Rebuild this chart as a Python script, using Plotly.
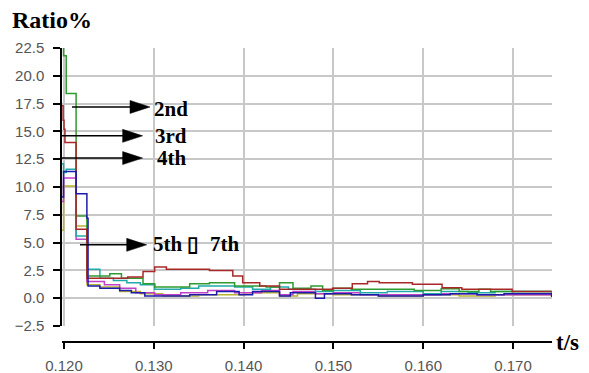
import plotly.graph_objects as go

# Harmonic ratio (%) versus time for harmonic orders 2..7 (step traces)
t_green = [0.11980, 0.11995, 0.12025, 0.12135, 0.12255, 0.1251, 0.1264, 0.1288, 0.1301, 0.1340, 0.1362,
           0.1390, 0.1425, 0.1440, 0.1455, 0.1475, 0.1488, 0.1500, 0.1520, 0.1590, 0.1620, 0.1640,
           0.1662, 0.1675, 0.1743]
v_green = [23.5, 21.8, 18.4, 7.4, 2.0, 2.2, 1.8, 1.3, 1.0, 1.3, 1.4, 1.1, 1.0, 1.4, 0.9, 1.1, 0.7,
           0.9, 0.8, 0.7, 0.85, 0.6, 0.8, 0.6, 0.6]

t_red = [0.11967, 0.11990, 0.12000, 0.12011, 0.12135, 0.12255, 0.1271, 0.1288, 0.1301, 0.1314, 0.1362,
         0.1388, 0.1399, 0.1418, 0.1440, 0.1499, 0.1521, 0.1538, 0.1551, 0.1588, 0.1621, 0.1643,
         0.1699, 0.1743]
v_red = [17.3, 16.0, 15.2, 14.0, 6.2, 1.8, 1.9, 2.4, 2.8, 2.6, 2.5, 2.0, 1.4, 1.1, 0.8, 0.9, 1.3, 1.5,
         1.4, 1.25, 0.95, 0.8, 0.6, 0.6]

t_cyan = [0.11967, 0.11995, 0.12025, 0.12135, 0.12255, 0.1240, 0.1255, 0.1270, 0.1285, 0.1301, 0.1330,
          0.1350, 0.1390, 0.1410, 0.1430, 0.1450, 0.1480, 0.1500, 0.1530, 0.1560, 0.1600, 0.1620,
          0.1650, 0.1680, 0.1743]
v_cyan = [12.1, 11.3, 11.6, 5.6, 2.6, 1.8, 1.6, 1.4, 1.2, 0.8, 0.9, 1.1, 1.0, 0.8, 1.0, 0.8, 0.6, 0.7,
          0.5, 0.6, 0.4, 0.6, 0.5, 0.6, 0.4]

t_blue = [0.11967, 0.11995, 0.12135, 0.12255, 0.12268, 0.1240, 0.1262, 0.1275, 0.1290, 0.1310, 0.1340,
          0.1370, 0.1395, 0.1410, 0.1440, 0.1452, 0.1480, 0.1490, 0.1520, 0.1550, 0.1600, 0.1630,
          0.1660, 0.1690, 0.1743]
v_blue = [9.1, 11.4, 9.4, 7.2, 1.1, 0.9, 0.7, 0.5, 0.2, 0.2, 0.3, 0.6, 0.3, 0.6, 0.2, 0.5, 0.0, 0.4,
          0.3, 0.2, 0.3, 0.4, 0.3, 0.4, 0.1]

t_magenta = [0.11967, 0.11995, 0.12135, 0.12255, 0.1245, 0.1262, 0.1280, 0.1301, 0.1330, 0.1360, 0.1390,
             0.1420, 0.1440, 0.1455, 0.1480, 0.1500, 0.1530, 0.1580, 0.1620, 0.1660, 0.1700, 0.1743]
v_magenta = [8.7, 10.8, 5.3, 1.5, 1.2, 0.9, 0.5, 0.3, 0.5, 0.7, 0.5, 0.7, 0.3, 0.6, 0.4, 0.5, 0.3, 0.3,
             0.4, 0.3, 0.3, 0.2]

t_olive = [0.11967, 0.11995, 0.12135, 0.12255, 0.1240, 0.1262, 0.1285, 0.1310, 0.1350, 0.1400, 0.1440,
           0.1460, 0.1500, 0.1550, 0.1600, 0.1640, 0.1680, 0.1743]
v_olive = [6.1, 10.1, 6.5, 1.2, 1.0, 0.6, 0.4, 0.2, 0.3, 0.5, 0.2, 0.4, 0.3, 0.2, 0.3, 0.2, 0.3, 0.2]

# Callout labels: text, arrow level (%), arrow tail / tip times, text anchor time and level
labels = ["2nd", "3rd", "4th", "5th \u25af  7th"]
label_arrow_y = [17.2, 14.6, 12.6, 4.8]
label_tail_t = [0.12089, 0.11978, 0.11978, 0.12178]
label_tip_t = [0.12958, 0.12876, 0.12876, 0.12921]
label_text_t = [0.12980, 0.12991, 0.13013, 0.12969]
label_text_y = [17.0, 14.6, 12.6, 4.9]

x_range = [0.11978, 0.17434]
y_range = [-2.5, 22.5]
x_ticks = [0.120, 0.130, 0.140, 0.150, 0.160, 0.170]

series = [
    (t_olive, v_olive, "#b8b42e"),
    (t_magenta, v_magenta, "#c040c8"),
    (t_cyan, v_cyan, "#22aaaa"),
    (t_green, v_green, "#2f9a2f"),
    (t_red, v_red, "#a82828"),
    (t_blue, v_blue, "#1c1caa"),
]

fig = go.Figure()
for t, v, c in series:
    fig.add_trace(go.Scatter(x=t, y=v, mode="lines", line=dict(color=c, width=1.5, shape="hv"),
                             showlegend=False, hoverinfo="skip"))

# separate bottom axis carrying the line, ticks and labels
fig.add_trace(go.Scatter(x=x_range, y=[None, None], xaxis="x2", yaxis="y", mode="lines",
                         showlegend=False, hoverinfo="skip"))

grid = "#c8c8c8"
tick_font = dict(family="Liberation Sans, Arial, sans-serif", size=15, color="#555555")
label_font = dict(family="Liberation Serif, Times New Roman, serif", size=21, color="black")

# arrows: shaft + filled head, built in data units from pixel-size constants
px_t = (x_range[1] - x_range[0]) / 490.0
px_y = (y_range[1] - y_range[0]) / 278.0
head_len = 20 * px_t
head_half = 6.5 * px_y
shapes = []
annotations = []
for name, ya, t0, t1, tt, ty in zip(labels, label_arrow_y, label_tail_t, label_tip_t,
                                    label_text_t, label_text_y):
    shapes.append(dict(type="line", xref="x", yref="y", x0=t0, x1=t1 - head_len * 0.8, y0=ya, y1=ya,
                       line=dict(color="black", width=1.5)))
    shapes.append(dict(type="path", xref="x", yref="y",
                       path=f"M{t1},{ya} L{t1 - head_len},{ya + head_half} L{t1 - head_len},{ya - head_half} Z",
                       fillcolor="black", line=dict(color="black", width=0.5)))
    annotations.append(dict(x=tt, y=ty, xref="x", yref="y", text=f"<b>{name}</b>", showarrow=False,
                            xanchor="left", yanchor="middle", font=label_font))

annotations.append(dict(x=-0.106, y=1.095, xref="paper", yref="paper", text="<b>Ratio%</b>",
                        showarrow=False, xanchor="left", yanchor="middle",
                        font=dict(family="Liberation Serif, Times New Roman, serif", size=24, color="black")))
annotations.append(dict(x=1.004, y=0.0, xref="paper", yref="paper", text="<b>t/s</b>",
                        showarrow=False, xanchor="left", yanchor="middle",
                        font=dict(family="Liberation Serif, Times New Roman, serif", size=23, color="black")))

fig.update_layout(
    width=589, height=373,
    margin=dict(l=62, r=37, t=48, b=31, autoexpand=False),
    plot_bgcolor="white", paper_bgcolor="white",
    xaxis=dict(range=x_range, anchor="y", tickvals=x_ticks, showticklabels=False, ticks="",
               showgrid=True, gridcolor=grid, gridwidth=1.5, showline=False, zeroline=False,
               automargin=False),
    xaxis2=dict(range=x_range, overlaying="x", anchor="free", position=0, side="bottom",
                tickvals=x_ticks, tickformat=".3f", ticks="outside", ticklen=6, tickwidth=1.5,
                tickcolor="black", showline=True, linecolor="black", linewidth=1.5,
                showgrid=False, zeroline=False, tickfont=tick_font, ticklabelstandoff=4,
                automargin=False),
    yaxis=dict(range=y_range, domain=[0.0544, 1], dtick=2.5, tick0=-2.5, tickformat=".1f",
               ticks="outside", ticklen=7, tickwidth=1.5, tickcolor="black",
               showline=True, linecolor="black", linewidth=1.5,
               showgrid=True, gridcolor=grid, gridwidth=1.5, zeroline=False,
               tickfont=tick_font, ticklabelstandoff=6, automargin=False),
    shapes=shapes,
    annotations=annotations,
)

fig.write_html("out.html")
